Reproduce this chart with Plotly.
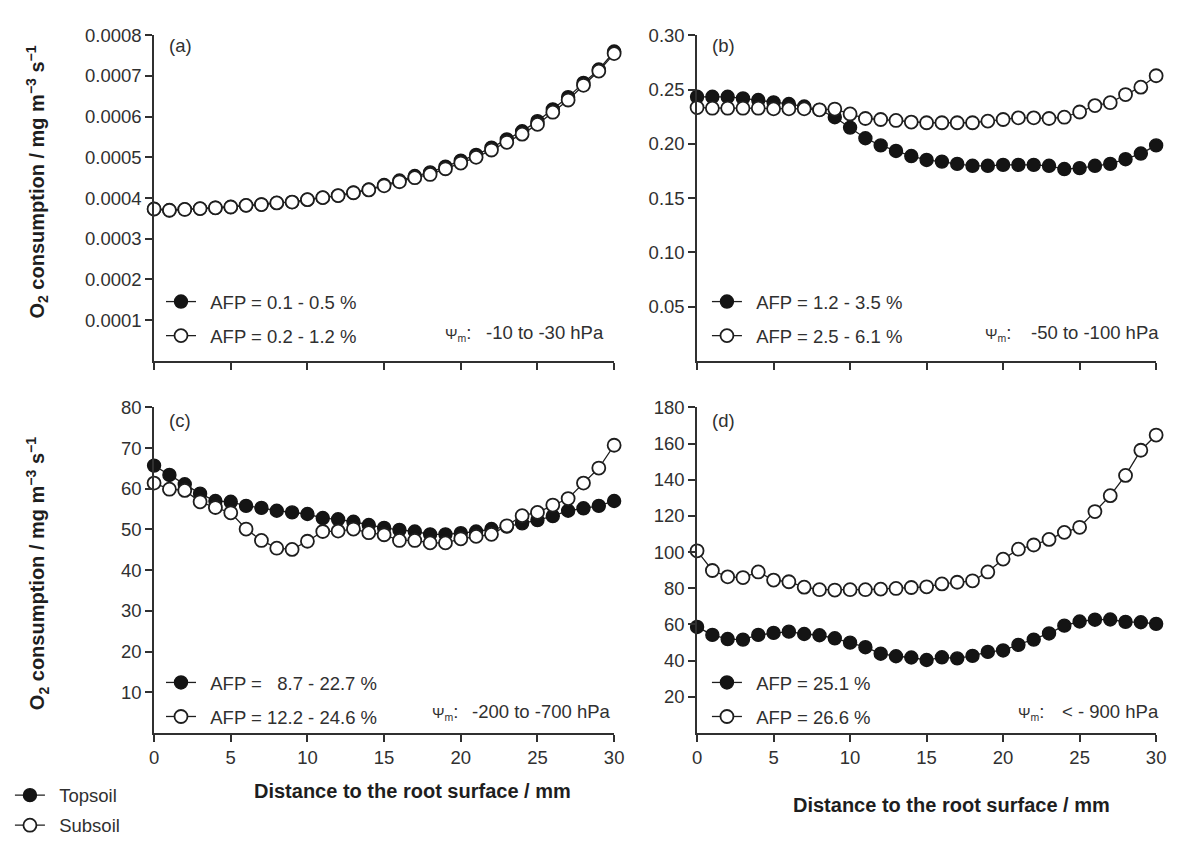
import plotly.graph_objects as go

# ---------------- data ----------------
distance = list(range(31))  # mm

a_top = [0.000373, 0.000370, 0.000372, 0.000374, 0.000376, 0.000378, 0.000382, 0.000384,
         0.000388, 0.000390, 0.000396, 0.000401, 0.000406, 0.000413, 0.000421, 0.000432,
         0.000443, 0.000454, 0.000463, 0.000477, 0.000492, 0.000506, 0.000524, 0.000544,
         0.000564, 0.000589, 0.000618, 0.000648, 0.000683, 0.000716, 0.000760]
a_sub = [0.000373, 0.000370, 0.000372, 0.000374, 0.000376, 0.000378, 0.000382, 0.000384,
         0.000388, 0.000390, 0.000396, 0.000401, 0.000406, 0.000413, 0.000420, 0.000430,
         0.000440, 0.000450, 0.000458, 0.000472, 0.000486, 0.000500, 0.000518, 0.000537,
         0.000557, 0.000581, 0.000611, 0.000641, 0.000677, 0.000712, 0.000755]

b_top = [0.2433, 0.2433, 0.2433, 0.2418, 0.2403, 0.2382, 0.2367, 0.2343, 0.2313, 0.2245,
         0.2149, 0.2051, 0.1985, 0.1934, 0.1887, 0.1851, 0.1836, 0.1815, 0.1797, 0.1797,
         0.1806, 0.1806, 0.1806, 0.1797, 0.1767, 0.1776, 0.1797, 0.1815, 0.1858, 0.1910,
         0.1985]
b_sub = [0.2334, 0.2328, 0.2328, 0.2328, 0.2328, 0.2322, 0.2322, 0.2322, 0.2313, 0.2320,
         0.2275, 0.2233, 0.2224, 0.2215, 0.2200, 0.2194, 0.2194, 0.2194, 0.2194, 0.2209,
         0.2224, 0.2239, 0.2239, 0.2233, 0.2245, 0.2293, 0.2352, 0.2379, 0.2454, 0.2522,
         0.2627]

c_top = [65.7, 63.4, 61.1, 58.8, 57.0, 56.8, 55.8, 55.3, 54.6, 54.2, 53.8, 52.8, 52.5, 51.9,
         51.1, 50.4, 49.9, 49.5, 48.8, 48.8, 49.1, 49.5, 50.1, 50.7, 51.5, 52.3, 53.3, 54.6,
         55.2, 55.8, 57.0]
c_sub = [61.4, 59.9, 59.6, 56.8, 55.4, 54.1, 50.1, 47.3, 45.4, 45.1, 47.1, 49.5, 49.6, 50.1,
         49.2, 48.7, 47.3, 47.3, 46.7, 46.7, 47.7, 48.3, 48.8, 50.9, 53.4, 54.2, 56.0, 57.6,
         61.4, 65.1, 70.7]

d_top = [58.6, 54.2, 51.9, 51.6, 54.2, 55.3, 56.0, 54.7, 54.0, 52.3, 49.9, 47.4, 43.8, 42.4,
         41.7, 40.3, 41.8, 41.2, 42.6, 44.8, 45.6, 48.7, 51.6, 55.0, 59.3, 61.6, 62.6, 62.7,
         61.4, 61.2, 60.3]
d_sub = [100.7, 89.8, 86.3, 85.9, 89.0, 84.5, 83.6, 80.6, 79.2, 79.0, 79.2, 79.2, 79.5, 79.9,
         80.4, 80.8, 82.4, 83.3, 84.1, 89.0, 96.1, 101.6, 103.9, 107.0, 110.9, 113.7, 122.4,
         131.2, 142.4, 156.3, 164.7]

panel_labels = ["(a)", "(b)", "(c)", "(d)"]
afp_top = ["AFP = 0.1 - 0.5 %", "AFP = 1.2 - 3.5 %", "AFP =\u00a0\u00a0 8.7 - 22.7 %", "AFP = 25.1 %"]
afp_sub = ["AFP = 0.2 - 1.2 %", "AFP = 2.5 - 6.1 %", "AFP = 12.2 - 24.6 %", "AFP = 26.6 %"]
psi_ranges = ["-10 to -30 hPa", "-50 to -100 hPa", "-200 to -700 hPa", "< - 900 hPa"]
y_max = [0.0008, 0.30, 80, 180]
y_tickvals = [
    [0.0001, 0.0002, 0.0003, 0.0004, 0.0005, 0.0006, 0.0007, 0.0008],
    [0.05, 0.10, 0.15, 0.20, 0.25, 0.30],
    [10, 20, 30, 40, 50, 60, 70, 80],
    [20, 40, 60, 80, 100, 120, 140, 160, 180],
]
y_tickformat = [".4f", ".2f", "d", "d"]
x_tickvals = [0, 5, 10, 15, 20, 25, 30]
x_title = "Distance to the root surface / mm"
y_title = "O<sub>2</sub> consumption / mg m<sup>\u22123</sup> s<sup>\u22121</sup>"
soil_names = ["Topsoil", "Subsoil"]

tops = [a_top, b_top, c_top, d_top]
subs = [a_sub, b_sub, c_sub, d_sub]

# ---------------- layout helpers ----------------
W, H = 1177, 845
FONT = "Liberation Sans, Arial, sans-serif"
INK = "#1e1e1e"
AX = "#303030"


def px(x):
    return x / W


def py(y):
    return 1 - y / H


x_dom = [[px(151), px(617)], [px(701), px(1166)]]
y_dom = [[py(360), py(25)], [py(743), py(408)]]

MS = 13
fill_marker = dict(symbol="circle", size=MS, color="#141414", line=dict(color="#141414", width=1.4))
open_marker = dict(symbol="circle", size=MS, color="white", line=dict(color=INK, width=1.8))
line_style = dict(color=INK, width=1.3)

fig = go.Figure()

legend_names = ["legend", "legend2", "legend3", "legend4"]
for i in range(4):
    ax = "" if i == 0 else str(i + 1)
    fig.add_trace(go.Scatter(
        x=distance, y=tops[i], xaxis="x" + ax, yaxis="y" + ax,
        mode="lines+markers", name="\u2002" + afp_top[i],
        legend=legend_names[i], legendgroup=f"t{i}",
        line=line_style, marker=fill_marker, cliponaxis=False,
    ))
    fig.add_trace(go.Scatter(
        x=distance, y=subs[i], xaxis="x" + ax, yaxis="y" + ax,
        mode="lines+markers", name="\u2002" + afp_sub[i],
        legend=legend_names[i], legendgroup=f"s{i}",
        line=line_style, marker=open_marker, cliponaxis=False,
    ))

# Topsoil / Subsoil key
fig.add_trace(go.Scatter(
    x=[None], y=[None], xaxis="x3", yaxis="y3", mode="lines+markers",
    name="\u2002" + soil_names[0], legend="legend5", legendgroup="kt",
    line=line_style, marker=fill_marker,
))
fig.add_trace(go.Scatter(
    x=[None], y=[None], xaxis="x3", yaxis="y3", mode="lines+markers",
    name="\u2002" + soil_names[1], legend="legend5", legendgroup="ks",
    line=line_style, marker=open_marker,
))

tickfont = dict(family=FONT, size=18.5, color=AX)
layout = dict(
    width=W, height=H, autosize=False,
    margin=dict(l=0, r=0, t=0, b=0),
    paper_bgcolor="white", plot_bgcolor="white",
    font=dict(family=FONT, size=18.5, color=AX),
    hovermode=False,
)

for i in range(4):
    ax = "" if i == 0 else str(i + 1)
    col = i % 2
    row = i // 2
    layout["xaxis" + ax] = dict(
        domain=x_dom[col], anchor="y" + ax, range=[0, 30],
        tickvals=x_tickvals, showticklabels=(row == 1),
        ticks="outside", ticklen=7, tickwidth=1.5, tickcolor=AX,
        showline=True, linecolor=AX, linewidth=1.5,
        showgrid=False, zeroline=False, tickfont=tickfont,
    )
    layout["yaxis" + ax] = dict(
        domain=y_dom[row], anchor="x" + ax, range=[0, y_max[i]],
        tickvals=y_tickvals[i], tickformat=y_tickformat[i],
        ticks="outside", ticklen=7, tickwidth=1.5, tickcolor=AX,
        showline=True, linecolor=AX, linewidth=1.5,
        showgrid=False, zeroline=False, tickfont=tickfont,
    )

legend_base = dict(xanchor="left", yanchor="top", bgcolor="rgba(0,0,0,0)",
                   traceorder="grouped", tracegroupgap=7, itemwidth=30,
                   font=dict(family=FONT, size=18.5, color=AX))
legend_pos = [(158, 280), (711, 280), (158, 672), (711, 672)]
for i, (lx, ly) in enumerate(legend_pos):
    layout[legend_names[i]] = dict(legend_base, x=px(lx), y=py(ly))
layout["legend5"] = dict(legend_base, x=px(5), y=py(788), tracegroupgap=3)

annotations = []
label_pos = [(164, 36), (714, 36), (164, 421), (714, 421)]
psi_left = [(444, 331), (991, 331), (430, 721), (1024, 721)]
psi_right = [(609, 331), (1171, 331), (616, 721), (1171, 721)]
for i in range(4):
    annotations.append(dict(text=panel_labels[i], x=px(label_pos[i][0]), y=py(label_pos[i][1]),
                            xref="paper", yref="paper", xanchor="left", yanchor="middle",
                            showarrow=False, font=dict(family=FONT, size=18.5, color=AX)))
    annotations.append(dict(text="<span style='font-size:15px'>\u03a8<sub>m</sub></span>:",
                            x=px(psi_left[i][0]), y=py(psi_left[i][1]),
                            xref="paper", yref="paper", xanchor="left", yanchor="middle",
                            showarrow=False, font=dict(family=FONT, size=18.5, color=AX)))
    annotations.append(dict(text=psi_ranges[i], x=px(psi_right[i][0]), y=py(psi_right[i][1]),
                            xref="paper", yref="paper", xanchor="right", yanchor="middle",
                            showarrow=False, font=dict(family=FONT, size=18.5, color=AX)))

# axis titles
for (cx, cy) in [(32, 176), (33, 579)]:
    annotations.append(dict(text="<b>" + y_title + "</b>", x=px(cx), y=py(cy),
                            xref="paper", yref="paper", xanchor="center", yanchor="middle",
                            textangle=-90, showarrow=False,
                            font=dict(family=FONT, size=20, color=INK)))
for (cx, cy) in [(413, 803), (959, 817)]:
    annotations.append(dict(text="<b>" + x_title + "</b>", x=px(cx), y=py(cy),
                            xref="paper", yref="paper", xanchor="center", yanchor="middle",
                            showarrow=False, font=dict(family=FONT, size=20, color=INK)))

layout["annotations"] = annotations
fig.update_layout(**layout)
fig.write_html("out.html")
